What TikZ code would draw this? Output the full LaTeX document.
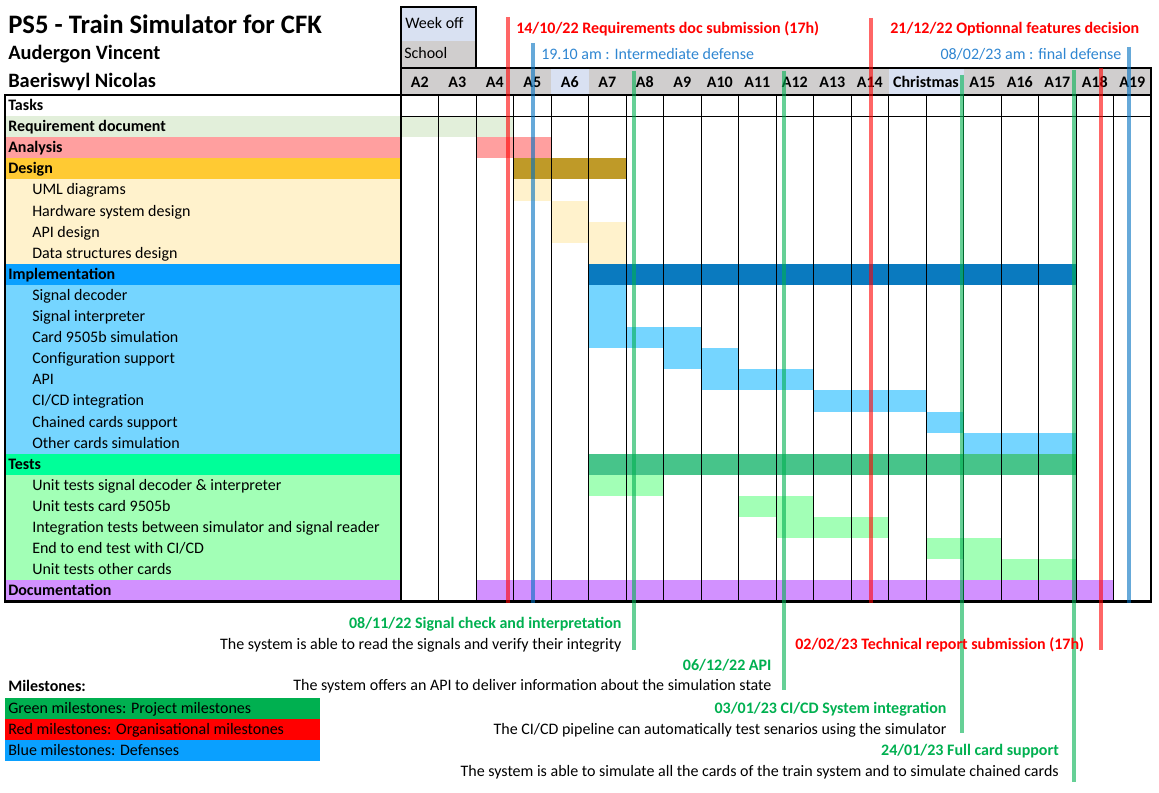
\documentclass[tikz,border=0pt]{standalone}
\usepackage{fontspec}
\setmainfont{Carlito}
\usepackage{tikz}
\definecolor{weekOff}{HTML}{D9E1F2}
\definecolor{schoolGray}{HTML}{D0CECE}
\definecolor{reqLight}{HTML}{E2EFDA}
\definecolor{analysisRed}{HTML}{FF9F9F}
\definecolor{designGold}{HTML}{FFCA33}
\definecolor{designBar}{HTML}{BF9A28}
\definecolor{designLight}{HTML}{FFF2CC}
\definecolor{implBlue}{HTML}{0AA0FF}
\definecolor{implBar}{HTML}{0A7ABF}
\definecolor{implLight}{HTML}{75D5FF}
\definecolor{testGreen}{HTML}{00FF99}
\definecolor{testBar}{HTML}{47C48A}
\definecolor{testLight}{HTML}{A2FFB6}
\definecolor{docPurple}{HTML}{D291FF}
\definecolor{msGreen}{HTML}{00B050}
\definecolor{msRed}{HTML}{FF0000}
\definecolor{msBlue}{HTML}{0070C0}
\definecolor{msBlueText}{HTML}{2F86D1}

\begin{document}
\begin{tikzpicture}[x=0.75pt, y=-0.75pt,
  every node/.style={inner sep=0pt, text=black, font=\fontsize{12}{14}\selectfont},
  grouplbl/.style={anchor=base west, font=\fontsize{12}{14}\selectfont\bfseries},
  sublbl/.style={anchor=base west},
  weeklbl/.style={anchor=base, font=\fontsize{12}{14}\selectfont\bfseries},
  gridline/.style={draw=black, line width=0.75pt},
  frame/.style={draw=black, line width=1.8pt},
  redline/.style={draw=msRed, line width=3pt, opacity=0.6},
  greenline/.style={draw=msGreen, line width=3pt, opacity=0.6},
  blueline/.style={draw=msBlue, line width=3pt, opacity=0.6},
  redlbl/.style={font=\fontsize{12}{14}\selectfont\bfseries, text=msRed},
  greenlbl/.style={font=\fontsize{12}{14}\selectfont\bfseries, text=msGreen},
  bluelbl/.style={text=msBlueText}]

  \useasboundingbox (0,0) rectangle (1159,792);

  %% ═══════════════════════════════════════════════════════════════
  %% TITLE + WEEK LEGEND
  %% ═══════════════════════════════════════════════════════════════

  \node[anchor=base west, font=\fontsize{20}{24}\selectfont\bfseries] (title)
      at (8,33.3) {PS5 - Train Simulator for CFK};
  \node[anchor=base west, font=\fontsize{15.3}{18}\selectfont\bfseries] (author1)
      at (8,60) {Audergon Vincent};
  \node[anchor=base west, font=\fontsize{15.3}{18}\selectfont\bfseries] (author2)
      at (8,87.3) {Baeriswyl Nicolas};

  \fill[weekOff] (401,7) rectangle (476,40.7);
  \fill[schoolGray] (401,40.7) rectangle (476,68);
  \node[sublbl] (weekoff) at (405,28.5) {Week off};
  \node[sublbl] (school) at (404,58.3) {School};

  %% ═══════════════════════════════════════════════════════════════
  %% WEEK HEADER
  %% ═══════════════════════════════════════════════════════════════

  \fill[schoolGray] (401,68) rectangle (1151,95);
  \fill[weekOff] (551,68) rectangle (588.5,95);
  \fill[weekOff] (888.5,68) rectangle (963.5,95);

  \node[weeklbl] (wA2)  at (419.75,87.5)  {A2};
  \node[weeklbl] (wA3)  at (457.25,87.5)  {A3};
  \node[weeklbl] (wA4)  at (494.75,87.5)  {A4};
  \node[weeklbl] (wA5)  at (532.25,87.5)  {A5};
  \node[weeklbl] (wA6)  at (569.75,87.5)  {A6};
  \node[weeklbl] (wA7)  at (607.25,87.5)  {A7};
  \node[weeklbl] (wA8)  at (644.75,87.5)  {A8};
  \node[weeklbl] (wA9)  at (682.25,87.5)  {A9};
  \node[weeklbl] (wA10) at (719.75,87.5)  {A10};
  \node[weeklbl] (wA11) at (757.25,87.5)  {A11};
  \node[weeklbl] (wA12) at (794.75,87.5)  {A12};
  \node[weeklbl] (wA13) at (832.25,87.5)  {A13};
  \node[weeklbl] (wA14) at (869.75,87.5)  {A14};
  \node[weeklbl] (wXmas) at (926,87.5)    {Christmas};
  \node[weeklbl] (wA15) at (982.25,87.5)  {A15};
  \node[weeklbl] (wA16) at (1019.75,87.5) {A16};
  \node[weeklbl] (wA17) at (1057.25,87.5) {A17};
  \node[weeklbl] (wA18) at (1094.75,87.5) {A18};
  \node[weeklbl] (wA19) at (1132.25,87.5) {A19};

  %% ═══════════════════════════════════════════════════════════════
  %% TASK COLUMN
  %% ═══════════════════════════════════════════════════════════════

  \fill[reqLight]    (5,116.1) rectangle (401,137.2);
  \fill[analysisRed] (5,137.2) rectangle (401,158.3);
  \fill[designGold]  (5,158.3) rectangle (401,179.4);
  \fill[designLight] (5,179.4) rectangle (401,263.8);
  \fill[implBlue]    (5,263.8) rectangle (401,284.9);
  \fill[implLight]   (5,284.9) rectangle (401,453.7);
  \fill[testGreen]   (5,453.7) rectangle (401,474.8);
  \fill[testLight]   (5,474.8) rectangle (401,580.3);
  \fill[docPurple]   (5,580.3) rectangle (401,601.4);

  \node[grouplbl] (tTasks)  at (8,110.5) {Tasks};
  \node[grouplbl] (tReq)    at (8,131.6) {Requirement document};
  \node[grouplbl] (tAnal)   at (8,152.7) {Analysis};
  \node[grouplbl] (tDesign) at (8,173.8) {Design};
  \node[sublbl]   (tUml)    at (32,194.9) {UML diagrams};
  \node[sublbl]   (tHw)     at (32,216)   {Hardware system design};
  \node[sublbl]   (tApiD)   at (32,237.1) {API design};
  \node[sublbl]   (tDs)     at (32,258.2) {Data structures design};
  \node[grouplbl] (tImpl)   at (8,279.3)  {Implementation};
  \node[sublbl]   (tSdec)   at (32,300.4) {Signal decoder};
  \node[sublbl]   (tSint)   at (32,321.5) {Signal interpreter};
  \node[sublbl]   (tCard)   at (32,342.6) {Card 9505b simulation};
  \node[sublbl]   (tConf)   at (32,363.7) {Configuration support};
  \node[sublbl]   (tApi)    at (32,384.8) {API};
  \node[sublbl]   (tCicd)   at (32,405.9) {CI/CD integration};
  \node[sublbl]   (tChain)  at (32,427)   {Chained cards support};
  \node[sublbl]   (tOther)  at (32,448.1) {Other cards simulation};
  \node[grouplbl] (tTests)  at (8,469.2)  {Tests};
  \node[sublbl]   (tUtSig)  at (32,490.3) {Unit tests signal decoder \& interpreter};
  \node[sublbl]   (tUtCard) at (32,511.4) {Unit tests card 9505b};
  \node[sublbl]   (tInteg)  at (32,532.5) {Integration tests between simulator and signal reader};
  \node[sublbl]   (tE2e)    at (32,553.6) {End to end test with CI/CD};
  \node[sublbl]   (tUtOth)  at (32,574.7) {Unit tests other cards};
  \node[grouplbl] (tDoc)    at (8,595.8)  {Documentation};

  %% ═══════════════════════════════════════════════════════════════
  %% BARS
  %% ═══════════════════════════════════════════════════════════════

  \fill[reqLight]    (401,116.1)   rectangle (513.5,137.2);
  \fill[analysisRed] (476,137.2)   rectangle (551,158.3);
  \fill[designBar]   (513.5,158.3) rectangle (626,179.4);
  \fill[designLight] (513.5,179.4) rectangle (551,200.5);
  \fill[designLight] (551,200.5)   rectangle (588.5,221.6);
  \fill[designLight] (551,221.6)   rectangle (626,242.7);
  \fill[designLight] (588.5,242.7) rectangle (626,263.8);

  \fill[implBar]     (588.5,263.8) rectangle (1076,284.9);
  \fill[implLight]   (588.5,284.9) rectangle (626,306);
  \fill[implLight]   (588.5,306)   rectangle (626,327.1);
  \fill[implLight]   (588.5,327.1) rectangle (701,348.2);
  \fill[implLight]   (663.5,348.2) rectangle (738.5,369.3);
  \fill[implLight]   (701,369.3)   rectangle (813.5,390.4);
  \fill[implLight]   (813.5,390.4) rectangle (926,411.5);
  \fill[implLight]   (926,411.5)   rectangle (963.5,432.6);
  \fill[implLight]   (963.5,432.6) rectangle (1076,453.7);

  \fill[testBar]     (588.5,453.7) rectangle (1076,474.8);
  \fill[testLight]   (588.5,474.8) rectangle (663.5,495.9);
  \fill[testLight]   (738.5,495.9) rectangle (813.5,517);
  \fill[testLight]   (776,517)     rectangle (888.5,538.1);
  \fill[testLight]   (926,538.1)   rectangle (1001,559.2);
  \fill[testLight]   (963.5,559.2) rectangle (1076,580.3);

  \fill[docPurple]   (476,580.3)   rectangle (1113.5,601.4);

  %% ═══════════════════════════════════════════════════════════════
  %% GRID + FRAMES
  %% ═══════════════════════════════════════════════════════════════

  \draw[gridline] (438.5,95) -- (438.5,601.4) (476,95) -- (476,601.4)
      (513.5,95) -- (513.5,601.4) (551,95) -- (551,601.4)
      (588.5,95) -- (588.5,601.4) (626,95) -- (626,601.4)
      (663.5,95) -- (663.5,601.4) (701,95) -- (701,601.4)
      (738.5,95) -- (738.5,601.4) (776,95) -- (776,601.4)
      (813.5,95) -- (813.5,601.4) (851,95) -- (851,601.4)
      (888.5,95) -- (888.5,601.4) (926,95) -- (926,601.4)
      (963.5,95) -- (963.5,601.4) (1001,95) -- (1001,601.4)
      (1038.5,95) -- (1038.5,601.4) (1076,95) -- (1076,601.4)
      (1113.5,95) -- (1113.5,601.4);
  \draw[gridline] (401,116.1) -- (1151,116.1);

  \draw[frame] (401,7) rectangle (476,68);
  \draw[frame] (401,68) rectangle (1151,95);
  \draw[frame] (5,95) rectangle (1151,601.4);
  \draw[draw=black, line width=1.2pt] (401,95) -- (401,601.4);

  %% ═══════════════════════════════════════════════════════════════
  %% MILESTONES
  %% ═══════════════════════════════════════════════════════════════

  \draw[redline]   (507.5,17) -- (507.5,603);
  \draw[blueline]  (533,43)   -- (533,603);
  \draw[greenline] (633.5,71) -- (633.5,650);
  \draw[greenline] (784,71)   -- (784,690);
  \draw[redline]   (871,18)   -- (871,603);
  \draw[greenline] (962,75)   -- (962,733);
  \draw[greenline] (1073.5,70) -- (1073.5,782);
  \draw[redline]   (1101,68)  -- (1101,650);
  \draw[blueline]  (1128.5,47) -- (1128.5,603);

  \node[redlbl, anchor=base west] (msReqDoc) at (516,33.3)
      {14/10/22 Requirements doc submission (17h)};
  \node[redlbl, anchor=base west] (msOptFeat) at (890,33.3)
      {21/12/22 Optionnal features decision};
  \node[bluelbl, anchor=base west] (msInterDef) at (541,60)
      {19.10 am : Intermediate defense};
  \node[bluelbl, anchor=base east] (msFinalDef) at (1121.7,60)
      {08/02/23 am : final defense};

  \node[greenlbl, anchor=base east] (msSignal) at (621.7,628.3)
      {08/11/22 Signal check and interpretation};
  \node[anchor=base east] (descSignal) at (621.7,649)
      {The system is able to read the signals and verify their integrity};
  \node[redlbl, anchor=base west] (msReport) at (795,649)
      {02/02/23 Technical report submission (17h)};
  \node[greenlbl, anchor=base east] (msApi) at (771.7,670)
      {06/12/22 API};
  \node[anchor=base east] (descApi) at (771.7,690.7)
      {The system offers an API to deliver information about the simulation state};
  \node[greenlbl, anchor=base east] (msCicd) at (946.7,713.3)
      {03/01/23 CI/CD System integration};
  \node[anchor=base east] (descCicd) at (946.7,734)
      {The CI/CD pipeline can automatically test senarios using the simulator};
  \node[greenlbl, anchor=base east] (msCards) at (1059,755.7)
      {24/01/23 Full card support};
  \node[anchor=base east] (descCards) at (1059,776.7)
      {The system is able to simulate all the cards of the train system and to simulate chained cards};

  %% ═══════════════════════════════════════════════════════════════
  %% MILESTONE LEGEND
  %% ═══════════════════════════════════════════════════════════════

  \node[grouplbl] (mslegend) at (8,691.7) {Milestones:};
  \fill[msGreen] (5,698.3) rectangle (320,719.3);
  \fill[msRed]   (5,719.3) rectangle (320,740.3);
  \fill[implBlue] (5,740.3) rectangle (320,761.3);
  \node[sublbl] (legGreen) at (8,713.8) {Green milestones: Project milestones};
  \node[sublbl] (legRed)   at (8,734.8) {Red milestones: Organisational milestones};
  \node[sublbl] (legBlue)  at (8,755.8) {Blue milestones: Defenses};

\end{tikzpicture}
\end{document}
